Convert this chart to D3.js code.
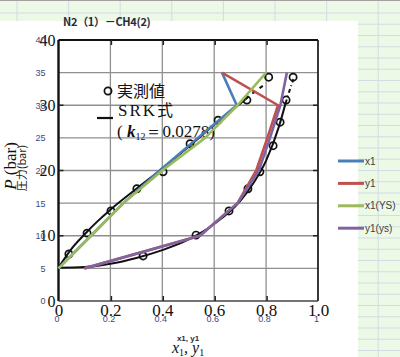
<!DOCTYPE html>
<html><head><meta charset="utf-8">
<script src="https://cdn.jsdelivr.net/npm/d3@7"></script>
<style>html,body{margin:0;padding:0;background:#fff;}svg{display:block;}</style>
</head><body>
<svg id="c" width="400" height="357"></svg>
<script>
// ---- Excel series (pressure rows, bar) ----
const pressures = [5, 10, 15, 20, 25, 30, 35];
const x1   = [0.00, 0.125, 0.25, 0.39, 0.537, 0.687, 0.63];
const y1   = [0.10, 0.545, 0.69, 0.762, 0.805, 0.846, 0.63];
const x1YS = [0.00, 0.125, 0.25, 0.40, 0.565, 0.69, 0.80];
const y1ys = [0.10, 0.545, 0.69, 0.772, 0.815, 0.855, 0.88];
const seriesNames = ["x1", "y1", "x1(YS)", "y1(ys)"];
const seriesColors = ["#4a7ebb", "#c0504d", "#9bbb59", "#8064a2"];

// ---- scanned figure: SRK curves and measured points ----
const srkBubbleX = [0, 0.02, 0.05, 0.1, 0.15, 0.2, 0.3, 0.4, 0.5, 0.6, 0.72];
const srkBubbleP = [5.1, 6.3, 8.0, 10.2, 12.2, 14.0, 17.2, 20.3, 23.6, 27.0, 30.9];
const srkBubbleDashX = [0.72, 0.76, 0.80];
const srkBubbleDashP = [30.9, 32.2, 33.3];
const srkDewX = [0, 0.1, 0.2, 0.3, 0.4, 0.5, 0.6, 0.7, 0.75, 0.8, 0.85, 0.875];
const srkDewP = [5.1, 5.2, 5.7, 6.6, 7.8, 9.4, 11.8, 15.3, 18.0, 21.5, 26.8, 30.3];
const srkDewDashX = [0.875, 0.89, 0.905];
const srkDewDashP = [30.3, 32.2, 34.0];
const expBubbleX = [0.04, 0.11, 0.202, 0.302, 0.403, 0.507, 0.615, 0.726, 0.81];
const expBubbleP = [7.2, 10.4, 13.8, 17.2, 19.8, 24.1, 27.7, 30.8, 34.3];
const expDewX = [0.326, 0.53, 0.657, 0.73, 0.776, 0.827, 0.854, 0.877, 0.904];
const expDewP = [6.9, 10.1, 13.8, 17.2, 19.8, 23.8, 27.4, 30.8, 34.3];

const excelYTicks = [0, 5, 10, 15, 20, 25, 30, 35, 40];
const excelXTicks = [0, 0.2, 0.4, 0.6, 0.8, 1];
const scanYTicks = [0, 10, 20, 30, 40];
const scanXTicks = [0, 0.2, 0.4, 0.6, 0.8, 1.0];
const gridY = [5, 10, 15, 20, 25, 30, 35];
const gridX = [0.2, 0.4, 0.6, 0.8];

const svg = d3.select("#c");
const x = d3.scaleLinear().domain([0, 1]).range([58.5, 318]);
const y = d3.scaleLinear().domain([0, 40]).range([301, 40]);
const SERIF = "'Liberation Serif','DejaVu Serif',serif";
const CJK = "'Noto Sans CJK JP','Noto Sans',sans-serif";
const SANS = "'Liberation Sans',Arial,sans-serif";

// ---- spreadsheet background ----
svg.append("rect").attr("width", 400).attr("height", 357).attr("fill", "#ebf9e6");
const sheet = svg.append("g").attr("stroke", "#d3dbe3").attr("stroke-width", 1);
for (let cx = 17; cx < 400; cx += 51.6) sheet.append("line").attr("x1", cx).attr("x2", cx).attr("y1", 0).attr("y2", 357);
for (let cy = 13; cy < 357; cy += 11.25) sheet.append("line").attr("x1", 0).attr("x2", 400).attr("y1", cy).attr("y2", cy);
svg.append("line").attr("x1", 0).attr("x2", 400).attr("y1", 0.5).attr("y2", 0.5).attr("stroke", "#a0a0a0");
svg.append("rect").attr("x", 0).attr("y", 21).attr("width", 358).attr("height", 336).attr("fill", "#fff");

// ---- title ----
svg.append("text").attr("x", 63).attr("y", 26).attr("font-family", CJK).attr("font-size", 11)
  .attr("font-weight", 600).attr("fill", "#2a2a3a").attr("letter-spacing", -0.3).text("N2（1）－CH4(2)");

// ---- scanned grid ----
const g = svg.append("g");
g.selectAll(".gx").data(gridX).join("line").attr("x1", d => x(d)).attr("x2", d => x(d))
  .attr("y1", y(40)).attr("y2", y(0)).attr("stroke", "#8f8f8f").attr("stroke-width", 1.3);
g.selectAll(".gy").data(gridY).join("line").attr("x1", x(0)).attr("x2", x(1))
  .attr("y1", d => y(d)).attr("y2", d => y(d)).attr("stroke", "#8f8f8f").attr("stroke-width", 1.3);
// frame
g.append("line").attr("x1", x(0)).attr("x2", x(1)).attr("y1", y(40)).attr("y2", y(40)).attr("stroke", "#111").attr("stroke-width", 2.2);
g.append("line").attr("x1", x(0)).attr("x2", x(0)).attr("y1", y(40)).attr("y2", y(0)).attr("stroke", "#111").attr("stroke-width", 2.4);
g.append("line").attr("x1", x(1)).attr("x2", x(1)).attr("y1", y(40)).attr("y2", y(0)).attr("stroke", "#222").attr("stroke-width", 1.8);
g.append("line").attr("x1", x(0)).attr("x2", x(1)).attr("y1", y(0)).attr("y2", y(0)).attr("stroke", "#444").attr("stroke-width", 1.4);
// inward ticks
gridX.forEach(d => {
  g.append("line").attr("x1", x(d)+1).attr("x2", x(d)+1).attr("y1", y(40)).attr("y2", y(40)+5).attr("stroke", "#222").attr("stroke-width", 1.5);
  g.append("line").attr("x1", x(d)+1).attr("x2", x(d)+1).attr("y1", y(0)).attr("y2", y(0)-5).attr("stroke", "#222").attr("stroke-width", 1.5);
});
[10, 20, 30].forEach(d => {
  g.append("line").attr("x1", x(0)).attr("x2", x(0)+5).attr("y1", y(d)).attr("y2", y(d)).attr("stroke", "#222").attr("stroke-width", 1.5);
  g.append("line").attr("x1", x(1)).attr("x2", x(1)-5).attr("y1", y(d)).attr("y2", y(d)).attr("stroke", "#222").attr("stroke-width", 1.5);
});

// scanned tick labels
const sy = svg.append("g").attr("transform", `translate(${x(0)},0)`)
  .call(d3.axisLeft(y).tickValues(scanYTicks).tickSize(0).tickPadding(3).tickFormat(d3.format("d")));
sy.select(".domain").remove();
sy.selectAll("text").attr("font-family", SERIF).attr("font-size", 16).attr("fill", "#111");
const sx = svg.append("g").attr("transform", `translate(0,${y(0)})`)
  .call(d3.axisBottom(x).tickValues(scanXTicks).tickSize(0).tickPadding(3).tickFormat(d3.format(".1f")));
sx.select(".domain").remove();
sx.selectAll("text").attr("font-family", SERIF).attr("font-size", 17).attr("fill", "#111")
  .text(d => d === 0 ? "0" : d3.format(".1f")(d));

// scanned axis titles
const yt = svg.append("text").attr("transform", "translate(16,166) rotate(-90)").attr("text-anchor", "middle")
  .attr("font-family", SERIF).attr("font-size", 17).attr("fill", "#111");
yt.append("tspan").attr("font-style", "italic").text("P");
yt.append("tspan").text(" (bar)");
svg.append("text").attr("transform", "translate(26,168) rotate(-90)").attr("text-anchor", "middle")
  .attr("font-family", CJK).attr("font-size", 11).attr("fill", "#222").text("圧力(bar)");
const xt = svg.append("text").attr("x", 172).attr("y", 353).attr("font-family", SERIF).attr("font-size", 16)
  .attr("font-style", "italic").attr("fill", "#111");
xt.append("tspan").text("x");
xt.append("tspan").attr("font-size", 10).attr("dy", 3).attr("font-style", "normal").text("1");
xt.append("tspan").attr("dy", -3).text(", y");
xt.append("tspan").attr("font-size", 10).attr("dy", 3).attr("font-style", "normal").text("1");

// SRK curves
const lineS = (xs, ps) => d3.line().curve(d3.curveMonotoneX).x((d, i) => x(xs[i])).y((d, i) => y(ps[i]))(xs);
const lineV = (xs, ps) => d3.line().curve(d3.curveMonotoneY).x((d, i) => x(xs[i])).y((d, i) => y(ps[i]))(xs);
svg.append("path").attr("d", lineS(srkBubbleX, srkBubbleP)).attr("fill", "none").attr("stroke", "#111").attr("stroke-width", 2);
svg.append("path").attr("d", lineS(srkDewX, srkDewP)).attr("fill", "none").attr("stroke", "#111").attr("stroke-width", 2);
svg.append("path").attr("d", lineS(srkBubbleDashX, srkBubbleDashP)).attr("fill", "none").attr("stroke", "#111").attr("stroke-width", 2).attr("stroke-dasharray", "4,5");
svg.append("path").attr("d", lineV(srkDewDashX, srkDewDashP)).attr("fill", "none").attr("stroke", "#111").attr("stroke-width", 2).attr("stroke-dasharray", "4,3,1,3");

// measured points
svg.selectAll(".eb").data(expBubbleX).join("circle").attr("cx", d => x(d)).attr("cy", (d, i) => y(expBubbleP[i]))
  .attr("r", 3.6).attr("fill", "none").attr("stroke", "#111").attr("stroke-width", 1.7);
svg.selectAll(".ed").data(expDewX).join("circle").attr("cx", d => x(d)).attr("cy", (d, i) => y(expDewP[i]))
  .attr("r", 3.6).attr("fill", "none").attr("stroke", "#111").attr("stroke-width", 1.7);

// scanned legend
svg.append("circle").attr("cx", 108).attr("cy", 91).attr("r", 3.6).attr("fill", "none").attr("stroke", "#111").attr("stroke-width", 1.7);
svg.append("text").attr("x", 117).attr("y", 97).attr("font-family", CJK).attr("font-size", 16).attr("fill", "#111").text("実測値");
svg.append("line").attr("x1", 97).attr("x2", 113).attr("y1", 118).attr("y2", 118).attr("stroke", "#111").attr("stroke-width", 2.2);
const srk = svg.append("text").attr("x", 118).attr("y", 116).attr("font-size", 17).attr("fill", "#111");
srk.append("tspan").attr("font-family", SERIF).attr("letter-spacing", 2).text("SRK");
srk.append("tspan").attr("font-family", CJK).attr("font-size", 16).text("式");
const kt = svg.append("text").attr("x", 117).attr("y", 137).attr("font-family", SERIF).attr("font-size", 17).attr("fill", "#111");
kt.append("tspan").text("( ");
kt.append("tspan").attr("font-style", "italic").attr("font-weight", "bold").text("k");
kt.append("tspan").attr("font-size", 10).attr("dy", 3).text("12");
kt.append("tspan").attr("dy", -3).text("＝0.0278)");

// ---- Excel series lines ----
const excelLine = xs => d3.line().x((d, i) => x(xs[i])).y((d, i) => y(pressures[i]))(xs);
[x1, y1, x1YS, y1ys].forEach((s, k) => {
  svg.append("path").attr("d", excelLine(s)).attr("fill", "none").attr("stroke", seriesColors[k])
    .attr("stroke-width", 2.6).attr("stroke-linejoin", "round");
});

// Excel axis labels
const ey = svg.append("g").attr("transform", `translate(${x(0)},0)`)
  .call(d3.axisLeft(y).tickValues(excelYTicks).tickSize(0).tickPadding(13));
ey.select(".domain").remove();
ey.selectAll("text").attr("font-family", SANS).attr("font-size", 9).attr("fill", "#3d4a80");
const ex = svg.append("g").attr("transform", `translate(-2,${y(0)})`)
  .call(d3.axisBottom(x).tickValues(excelXTicks).tickSize(0).tickPadding(15).tickFormat(d => d3.format("~g")(d)));
ex.select(".domain").remove();
ex.selectAll("text").attr("font-family", SANS).attr("font-size", 9).attr("fill", "#3d4a80");
svg.append("text").attr("x", 188).attr("y", 341).attr("text-anchor", "middle").attr("font-family", SANS)
  .attr("font-size", 8).attr("font-weight", "bold").attr("fill", "#2a2a3a").text("x1, y1");

// Excel legend
const lg = svg.append("g");
seriesNames.forEach((n, k) => {
  const ly = 161 + k * 22.4;
  lg.append("line").attr("x1", 338).attr("x2", 364).attr("y1", ly).attr("y2", ly).attr("stroke", seriesColors[k]).attr("stroke-width", 3);
  lg.append("text").attr("x", 365).attr("y", ly + 3.5).attr("font-family", SANS)
    .attr("font-size", 10).attr("fill", "#404040").text(n);
});
</script>
</body></html>
